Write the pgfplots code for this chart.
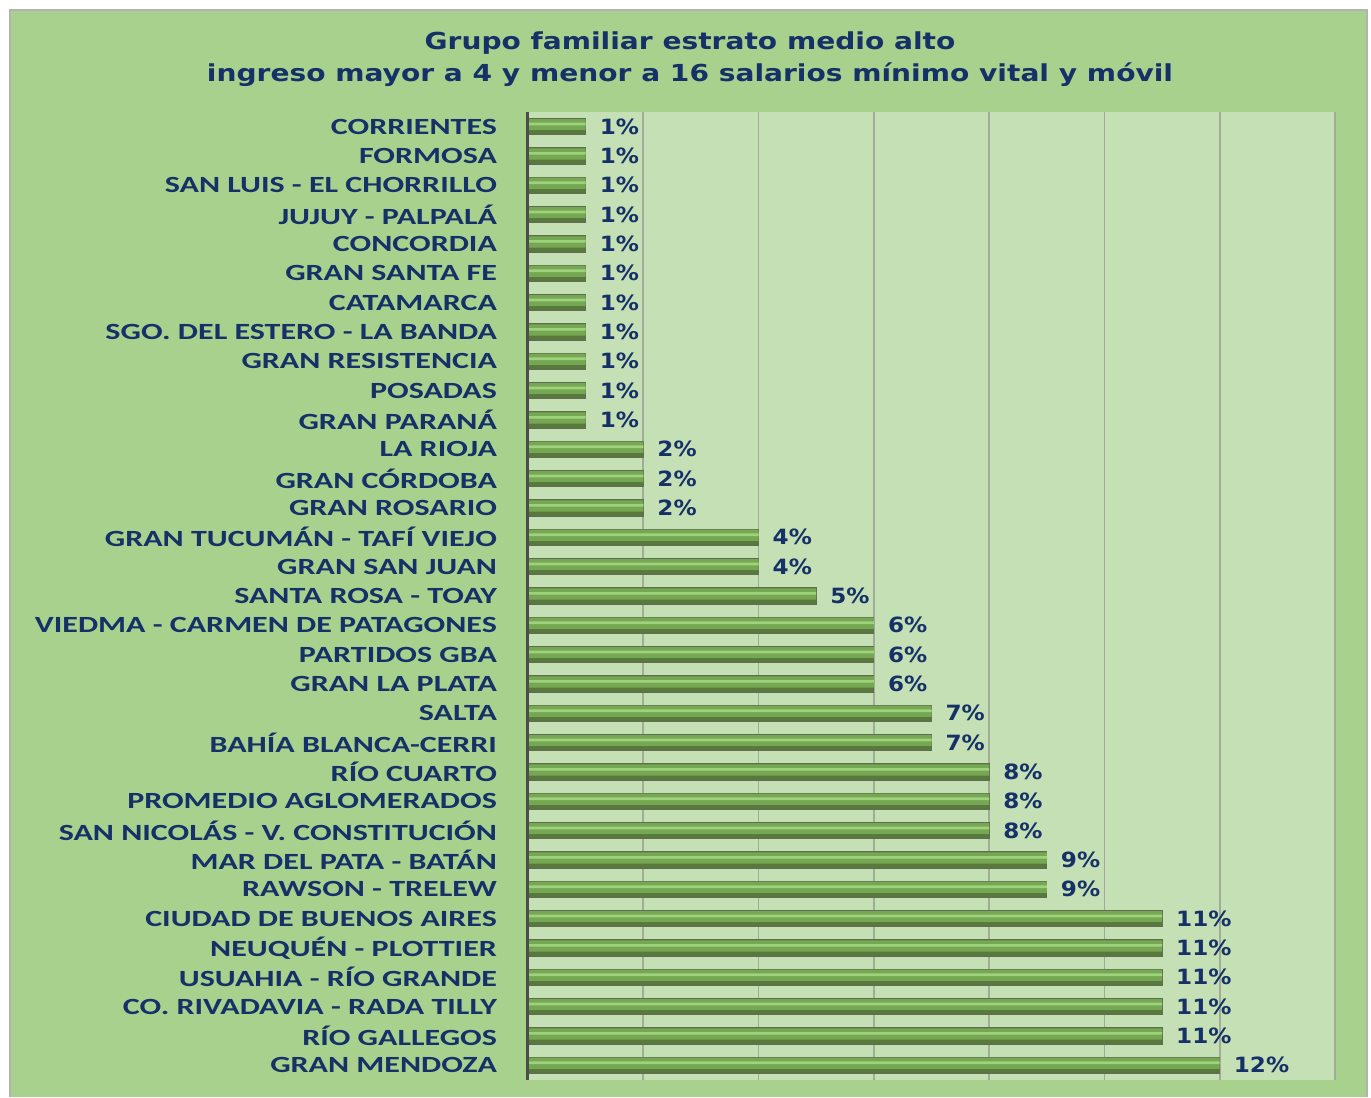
\documentclass[border=0pt]{standalone}
\usepackage{pgfplots}
\pgfplotsset{compat=1.18}
\usepackage{fontspec}
\setmainfont{DejaVu Sans}
\newfontfamily\catfont[FakeStretch=1.38]{Carlito}
\newfontfamily\valfont[FakeStretch=1.1]{DejaVu Sans}
\newfontfamily\titfont[FakeStretch=1.2]{DejaVu Sans}
\definecolor{outerg}{RGB}{169,209,142}
\definecolor{innerg}{RGB}{197,224,180}
\definecolor{navy}{RGB}{22,48,104}
\definecolor{gridc}{RGB}{160,172,150}
\definecolor{barlight}{RGB}{160,210,126}
\definecolor{barmid}{RGB}{118,168,84}
\definecolor{bardark}{RGB}{88,120,62}
\definecolor{baredge}{RGB}{95,110,82}
\pgfplotstableread{
x y
1 0
1 1
1 2
1 3
1 4
1 5
1 6
1 7
1 8
1 9
1 10
2 11
2 12
2 13
4 14
4 15
5 16
6 17
6 18
6 19
7 20
7 21
8 22
8 23
8 24
9 25
9 26
11 27
11 28
11 29
11 30
11 31
12 32
}\datatable
\begin{document}
\begin{tikzpicture}
\fill[white] (0pt,0pt) rectangle (685.5pt,548.5pt);
\fill[outerg] (5pt,0pt) rectangle (683.5pt,543.5pt);
\draw[gray!60,line width=0.6pt] (5pt,0pt) -- (5pt,543.5pt) -- (683.5pt,543.5pt) -- (683.5pt,0pt);
\node[font=\titfont\bfseries\fontsize{11.7}{16}\selectfont, text=navy, align=center] at (345pt,519pt)
  {Grupo familiar estrato medio alto\\ingreso mayor a 4 y menor a 16 salarios mínimo vital y móvil};
\begin{axis}[
  at={(264pt,8.5pt)}, anchor=south west,
  width=403.5pt, height=484pt, scale only axis,
  xbar,
  xmin=0, xmax=14, ymin=-0.5, ymax=32.5,
  y dir=reverse,
  axis background/.style={fill=innerg},
  axis line style={draw=none},
  xtick={2,4,...,14}, xticklabels={},
  xmajorgrids, major grid style={gridc, line width=0.9pt},
  ytick={0,...,32},
  major tick length=0pt,
  yticklabels={CORRIENTES,FORMOSA,SAN LUIS - EL CHORRILLO,JUJUY - PALPALÁ,CONCORDIA,GRAN SANTA FE,CATAMARCA,SGO. DEL ESTERO - LA BANDA,GRAN RESISTENCIA,POSADAS,GRAN PARANÁ,LA RIOJA,GRAN CÓRDOBA,GRAN ROSARIO,GRAN TUCUMÁN - TAFÍ VIEJO,GRAN SAN JUAN,SANTA ROSA - TOAY,VIEDMA - CARMEN DE PATAGONES,PARTIDOS GBA,GRAN LA PLATA,SALTA,BAHÍA BLANCA-CERRI,RÍO CUARTO,PROMEDIO AGLOMERADOS,SAN NICOLÁS - V. CONSTITUCIÓN,MAR DEL PATA - BATÁN,RAWSON - TRELEW,CIUDAD DE BUENOS AIRES,NEUQUÉN - PLOTTIER,USUAHIA - RÍO GRANDE,CO. RIVADAVIA - RADA TILLY,RÍO GALLEGOS,GRAN MENDOZA},
  yticklabel style={font=\catfont\bfseries\fontsize{11.6}{13}\selectfont, text=navy, anchor=east, xshift=-12pt},
  clip=false,
]
% base (dark) bar with edge and value labels
\addplot[xbar, bar width=0.56, bar shift=0, fill=bardark, draw=baredge, line width=0.5pt,
  point meta=x,
  nodes near coords={\pgfmathprintnumber[assume math mode=true]{\pgfplotspointmeta}\%},
  every node near coord/.append style={font=\valfont\bfseries\fontsize{10.5}{12}\selectfont, text=navy, anchor=west, xshift=3.5pt}]
  table[x=x,y=y] {\datatable};
% medium upper band
\addplot[xbar, bar width=0.38, bar shift=-0.07, fill=barmid, draw=none]
  table[x=x,y=y] {\datatable};
% light highlight stripe
\addplot[xbar, bar width=0.09, bar shift=-0.09, fill=barlight, draw=none]
  table[x=x,y=y] {\datatable};
\draw[black!70, line width=1.5pt] (axis cs:0,-0.5) -- (axis cs:0,32.5);
\end{axis}
\end{tikzpicture}
\end{document}
